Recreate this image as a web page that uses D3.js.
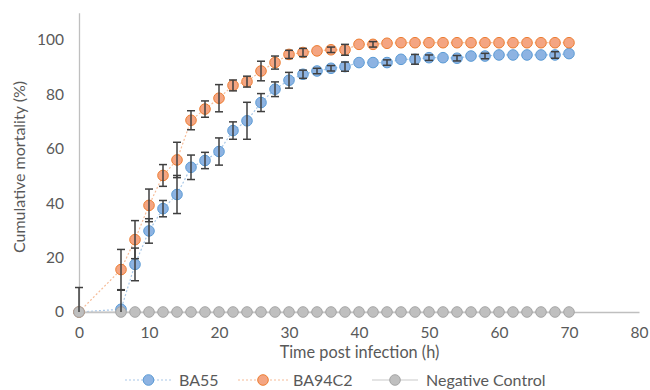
<!DOCTYPE html>
<html>
<head>
<meta charset="utf-8">
<script src="https://cdn.jsdelivr.net/npm/d3@7"></script>
<style>
  html, body { margin: 0; padding: 0; background: #fff; }
  svg { display: block; }
  text { font-family: Lato, "Open Sans", sans-serif; fill: #595959; }
</style>
</head>
<body>
<svg id="chart" width="650" height="390"></svg>
<script>
const times = [0, 6, 8, 10, 12, 14, 16, 18, 20, 22, 24, 26, 28, 30, 32, 34, 36, 38, 40, 42, 44, 46, 48, 50, 52, 54, 56, 58, 60, 62, 64, 66, 68, 70];
const ba55 = [0, 1, 17.5, 29.8, 38, 43.2, 53.2, 55.7, 59, 66.7, 70.3, 77, 81.9, 85.2, 87.4, 88.6, 89.6, 90.2, 91.7, 91.7, 91.7, 92.9, 92.9, 93.5, 93.5, 93.3, 94.1, 94.1, 94.5, 94.5, 94.5, 94.5, 94.5, 95];
const ba55Err = [0, 7, 6, 4.5, 3, 7, 4.5, 3, 5, 3.2, 6.8, 3.3, 2.7, 2.9, 1.5, 1, 1, 1.7, 0, 0, 1, 0, 1.8, 1, 0, 1, 0, 1, 0, 0, 0, 0, 1.2, 0];
const ba94c2 = [0, 15.6, 26.6, 39.2, 50.2, 55.9, 70.5, 74.6, 78.6, 83.3, 84.7, 88.6, 91.7, 94.7, 95.4, 96, 96.4, 96.4, 98.4, 98.4, 98.8, 99, 99, 99, 99, 99, 99, 99, 99, 99, 99, 99, 99, 99];
const ba94c2Err = [9, 7.4, 7, 6, 4, 6.5, 3.5, 3, 5, 2, 2, 3.6, 2.4, 1.5, 1.5, 0, 1, 2, 0, 1, 0, 0, 0, 0, 0, 0, 0, 0, 0, 0, 0, 0, 0, 0];
const negControl = [0, 0, 0, 0, 0, 0, 0, 0, 0, 0, 0, 0, 0, 0, 0, 0, 0, 0, 0, 0, 0, 0, 0, 0, 0, 0, 0, 0, 0, 0, 0, 0, 0, 0];
const negControlErr = [0, 0, 0, 0, 0, 0, 0, 0, 0, 0, 0, 0, 0, 0, 0, 0, 0, 0, 0, 0, 0, 0, 0, 0, 0, 0, 0, 0, 0, 0, 0, 0, 0, 0];
const seriesNames = ["BA55", "BA94C2", "Negative Control"];
const xTicks = [0, 10, 20, 30, 40, 50, 60, 70, 80];
const yTicks = [0, 20, 40, 60, 80, 100];
const xTitle = "Time post infection (h)";
const yTitle = "Cumulative mortality (%)";

const styles = [
  { line: "#a9c8e8", dash: "2,2", fill: "#8db3e2", stroke: "#5b9bd5" },
  { line: "#f6bc98", dash: "2,2", fill: "#f4a582", stroke: "#ed7d31" },
  { line: "#c9c9c9", dash: null, fill: "#bfbfbf", stroke: "#a5a5a5" }
];

const series = [
  { name: seriesNames[0], values: ba55, err: ba55Err },
  { name: seriesNames[1], values: ba94c2, err: ba94c2Err },
  { name: seriesNames[2], values: negControl, err: negControlErr }
];

const svg = d3.select("#chart");
const x = d3.scaleLinear().domain([0, 80]).range([79, 639]);
const y = d3.scaleLinear().domain([0, 110]).range([312, 12.8]);

// axes
const yAxis = svg.append("g").attr("transform", `translate(${x(0)},0)`)
  .call(d3.axisLeft(y).tickValues(yTicks).tickSize(0).tickPadding(15));
yAxis.select(".domain").attr("stroke", "#bfbfbf").attr("stroke-width", 1.3);
yAxis.selectAll("text").style("font-size", "15.5px").style("font-family", "Lato, sans-serif").attr("fill", "#595959");

const xAxis = svg.append("g").attr("transform", `translate(0,${y(0)})`)
  .call(d3.axisBottom(x).tickValues(xTicks).tickSize(0).tickPadding(15));
xAxis.select(".domain").attr("stroke", "#bfbfbf").attr("stroke-width", 1.3);
xAxis.selectAll("text").style("font-size", "15.5px").style("font-family", "Lato, sans-serif").attr("fill", "#595959");

// titles
svg.append("text").attr("x", 359.5).attr("y", 358).attr("text-anchor", "middle")
  .style("font-size", "16.3px").text(xTitle);
svg.append("text").attr("transform", "translate(25,167) rotate(-90)").attr("text-anchor", "middle")
  .style("font-size", "16px").text(yTitle);

// lines
const line = d3.line().x((d, i) => x(times[i])).y(d => y(d));
series.forEach((s, k) => {
  svg.append("path").datum(s.values).attr("d", line)
    .attr("fill", "none").attr("stroke", styles[k].line).attr("stroke-width", 1.2)
    .attr("stroke-dasharray", styles[k].dash);
});

// markers
series.forEach((s, k) => {
  svg.append("g").selectAll("circle").data(s.values).join("circle")
    .attr("cx", (d, i) => x(times[i])).attr("cy", d => y(d)).attr("r", 5.3)
    .attr("fill", styles[k].fill).attr("stroke", styles[k].stroke).attr("stroke-width", 1);
});

// error bars
series.forEach((s, k) => {
  const g = svg.append("g").attr("stroke", "#3f3f3f").attr("stroke-width", 1.5);
  s.values.forEach((v, i) => {
    const e = s.err[i];
    if (e <= 0) return;
    const lo = Math.max(0, v - e), hi = v + e;
    const cx = x(times[i]);
    g.append("line").attr("x1", cx).attr("x2", cx).attr("y1", y(lo)).attr("y2", y(hi));
    g.append("line").attr("x1", cx - 4).attr("x2", cx + 4).attr("y1", y(hi)).attr("y2", y(hi));
    if (v - e >= 0) g.append("line").attr("x1", cx - 4).attr("x2", cx + 4).attr("y1", y(lo)).attr("y2", y(lo));
  });
});

// legend
const legendItems = [
  { x0: 125, x1: 172, text: 179 },
  { x0: 238, x1: 288, text: 293 },
  { x0: 372, x1: 418, text: 426 }
];
const ly = 380;
series.forEach((s, k) => {
  const it = legendItems[k];
  const g = svg.append("g");
  g.append("line").attr("x1", it.x0).attr("x2", it.x1).attr("y1", ly).attr("y2", ly)
    .attr("stroke", styles[k].line).attr("stroke-width", 1.2).attr("stroke-dasharray", styles[k].dash);
  g.append("circle").attr("cx", (it.x0 + it.x1) / 2).attr("cy", ly).attr("r", 5.3)
    .attr("fill", styles[k].fill).attr("stroke", styles[k].stroke);
  g.append("text").attr("x", it.text).attr("y", ly).attr("dy", "0.35em")
    .style("font-size", "16px").text(s.name);
});
</script>
</body>
</html>
